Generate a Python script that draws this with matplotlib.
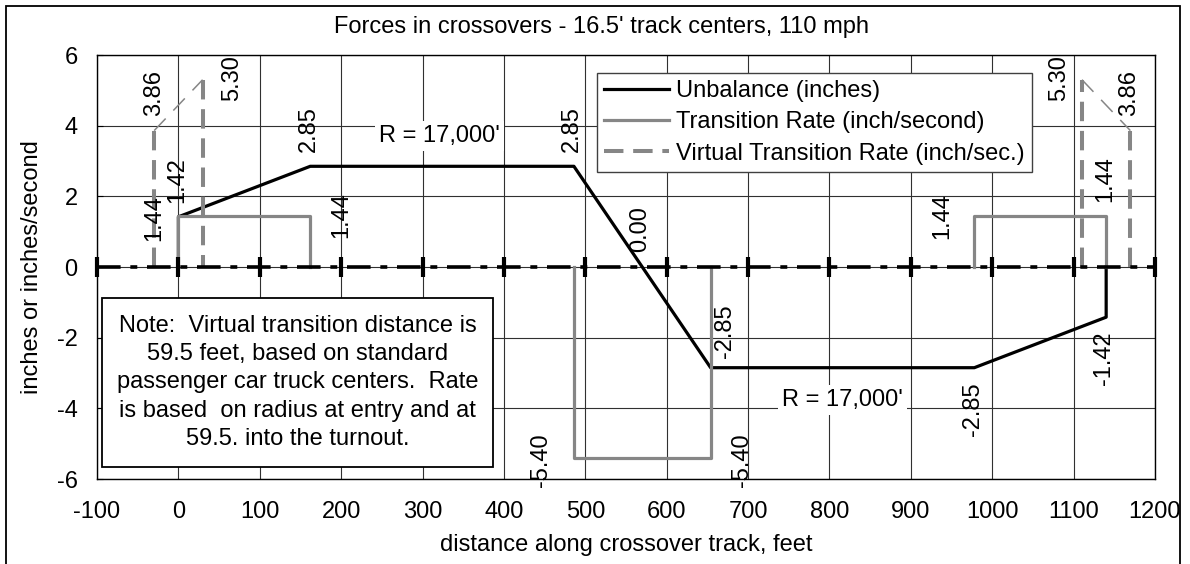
import matplotlib
matplotlib.use("Agg")
import numpy as np
import matplotlib.pyplot as plt
from matplotlib.patches import Rectangle

plt.rcParams['font.family'] = ['Liberation Sans', 'DejaVu Sans']
plt.rcParams['font.size'] = 17
plt.rcParams['axes.unicode_minus'] = False
plt.rcParams['lines.scale_dashes'] = False

# distance along the crossover (feet) and the three series
unb_x = [0, 0, 162, 486, 570, 654, 978, 1140, 1140]
unb_y = [0, 1.42, 2.85, 2.85, 0.00, -2.85, -2.85, -1.42, 0]

rate_x = [0, 0, 162, 162, np.nan, 486, 486, 654, 654, np.nan, 978, 978, 1140, 1140]
rate_y = [0, 1.44, 1.44, 0, np.nan, 0, -5.40, -5.40, 0, np.nan, 0, 1.44, 1.44, 0]

# virtual transition rate over 59.5 ft at entry and exit
virt_left_x = [-29.75, 29.75]
virt_right_x = [1110.25, 1169.75]
virt_left_y = [3.86, 5.30]
virt_right_y = [5.30, 3.86]

x_ticks = list(range(-100, 1201, 100))
y_ticks = list(range(-6, 7, 2))

GREY = '#868686'

# value labels: (x, y, offset right px, offset up px)
unb_labels = [
    (0, 1.42, -1, 37),
    (162, 2.85, -1, 37),
    (486, 2.85, -2, 37),
    (570, 0.00, -2, 38),
    (654, -2.85, 14, 37),
    (978, -2.85, -1, -41),
    (1140, -1.42, -2, -41),
]
rate_labels = [
    (0, 1.44, -24, -2),
    (162, 1.44, 31, 1),
    (486, -5.40, -33, -2),
    (654, -5.40, 31, -2),
    (978, 1.44, -32, 0),
    (1140, 1.44, -1, 37),
]
virt_labels = [
    (-29.75, 3.86, 0, 38),
    (29.75, 5.30, 30, 2),
    (1110.25, 5.30, -23, 2),
    (1169.75, 3.86, -1, 38),
]

fig = plt.figure(figsize=(11.9, 5.64), dpi=100)
ax = fig.add_axes([97 / 1190, 1 - 479 / 564, 1058 / 1190, 424 / 564])

ax.set_xlim(-100, 1200)
ax.set_ylim(-6, 6)
ax.set_xticks(x_ticks)
ax.set_yticks(y_ticks)
ax.grid(True, color='#303030', lw=0.8, zorder=0)
ax.set_axisbelow(True)
ax.tick_params(axis='x', length=0, pad=16)
ax.tick_params(axis='y', direction='in', length=4, pad=14)
for s in ax.spines.values():
    s.set_linewidth(1.0)
    s.set_color('black')

# series
ax.plot(unb_x, unb_y, color='black', lw=2.3, zorder=3, label='Unbalance (inches)')
ax.plot(rate_x, rate_y, color=GREY, lw=2.3, zorder=4, label='Transition Rate (inch/second)')

vdash = (14, 7)
for vx, vy in ((virt_left_x, virt_left_y), (virt_right_x, virt_right_y)):
    # vertical drops to zero at each end, thin connector between them
    ax.plot([vx[0], vx[0]], [0, vy[0]], color=GREY, lw=2.9, dashes=vdash, zorder=3)
    ax.plot([vx[1], vx[1]], [vy[1], 0], color=GREY, lw=2.9, dashes=vdash, zorder=3)
    ax.plot(vx, vy, color=GREY, lw=1.1, dashes=(12, 8), zorder=3)
ax.plot([], [], color=GREY, lw=2.9, dashes=vdash, label='Virtual Transition Rate (inch/sec.)')

# horizontal axis through zero, dash-dot with cross ticks
ax.axhline(0, color='black', lw=2.6, dashes=(17, 7, 5, 7), zorder=5)
ax.plot(x_ticks, [0] * len(x_ticks), ls='none', marker='|', ms=14.5, mew=3,
        color='black', zorder=6, clip_on=False)

for lx, ly, dx, dy in unb_labels + rate_labels + virt_labels:
    ax.annotate(f'{ly:.2f}', (lx, ly), xytext=(dx, dy), textcoords='offset pixels',
                rotation=90, ha='center', va='center', rotation_mode='anchor',
                zorder=7)

ax.text(321, 3.71, "R = 17,000'", ha='center', va='center', zorder=7,
        bbox=dict(facecolor='white', edgecolor='none', pad=3))
ax.text(816, -3.76, "R = 17,000'", ha='center', va='center', zorder=7,
        bbox=dict(facecolor='white', edgecolor='none', pad=3))

leg = ax.legend(loc='upper left', bbox_to_anchor=(0.4726, 0.9575), borderaxespad=0,
                fancybox=False, framealpha=1, edgecolor='#404040',
                handlelength=2.75, handletextpad=0.3, labelspacing=0.39, borderpad=0.3)
leg.get_frame().set_linewidth(1.0)
leg.set_zorder(8)

# note box
ax.add_patch(Rectangle((0.0047, 0.0283), 0.3696, 0.3986, transform=ax.transAxes,
                       facecolor='white', edgecolor='black', lw=1.3, zorder=8))
note = ("Note:  Virtual transition distance is\n"
        "59.5 feet, based on standard\n"
        "passenger car truck centers.  Rate\n"
        "is based  on radius at entry and at\n"
        "59.5. into the turnout.")
ax.text(0.1895, 0.2276, note, transform=ax.transAxes, ha='center', va='center',
        multialignment='center', linespacing=1.37, zorder=9)

ax.set_xlabel('distance along crossover track, feet')
ax.xaxis.set_label_coords(0.5, (479 - 545) / 424)
ax.set_ylabel('inches or inches/second')
ax.yaxis.set_label_coords((32 - 97) / 1058, 0.5)
ax.xaxis.label.set_va('center')
ax.yaxis.label.set_va('center')

fig.text(601 / 1190, 1 - 27 / 564, "Forces in crossovers - 16.5' track centers, 110 mph",
         ha='center', va='center')

fig.add_artist(Rectangle((6 / 1190, -0.02), 1174 / 1190, 1 - 6 / 564 + 0.02,
                         transform=fig.transFigure, fill=False, edgecolor='black', lw=1.3))

fig.savefig('out.png', dpi=100)
